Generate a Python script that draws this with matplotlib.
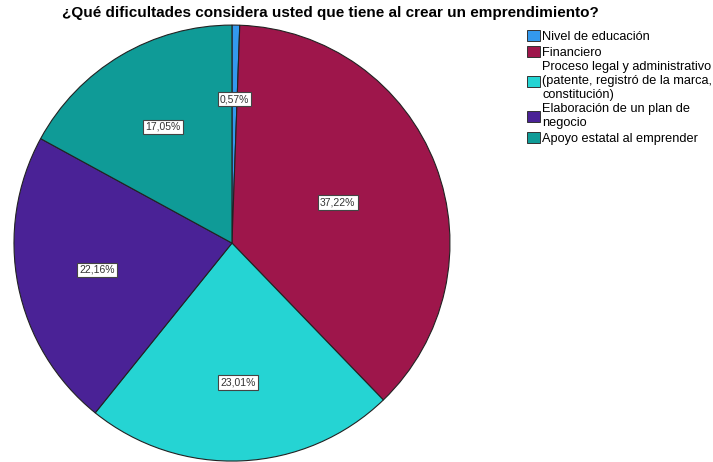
import numpy as np
import matplotlib.pyplot as plt
from matplotlib.patches import Patch

plt.rcParams['font.family'] = ['Liberation Sans', 'DejaVu Sans']

categorias = ["Nivel de educación", "Financiero",
              "Proceso legal y administrativo\n(patente, registró de la marca,\nconstitución)",
              "Elaboración de un plan de\nnegocio", "Apoyo estatal al emprender"]
porcentajes = [0.57, 37.22, 23.01, 22.16, 17.05]
colores = ["#3399ee", "#9e164b", "#25d4d3", "#4a2296", "#0f9b97"]
radio_etiqueta = [0.66, 0.52, 0.64, 0.63, 0.62]

fig = plt.figure(figsize=(7.13, 4.62), dpi=100)
ax = fig.add_axes([0.0196, 0.002, 0.6115, 0.9437])

wedges, _ = ax.pie(porcentajes, colors=colores, startangle=90, counterclock=False,
                   wedgeprops=dict(edgecolor="#222222", linewidth=0.8))
ax.set_xlim(-1, 1)
ax.set_ylim(-1, 1)
ax.set_aspect("equal")

for w, p, r in zip(wedges, porcentajes, radio_etiqueta):
    ang = np.deg2rad((w.theta1 + w.theta2) / 2)
    ax.text(r * np.cos(ang), r * np.sin(ang), f"{p:.2f}%".replace(".", ","),
            ha="center", va="center", fontsize=7.5, color="#333333",
            bbox=dict(boxstyle="square,pad=0.2", fc="white", ec="#444444", lw=0.8))

fig.text(0.463, 0.972, "¿Qué dificultades considera usted que tiene al crear un emprendimiento?",
         ha="center", va="center", fontsize=11, fontweight="bold")

handles = [Patch(facecolor=c, edgecolor="#333333", linewidth=0.7) for c in colores]
fig.legend(handles, categorias, loc="upper left", bbox_to_anchor=(0.739, 0.935),
           frameon=False, fontsize=9.2, handlelength=1.0, handleheight=1.0,
           handletextpad=0.2, labelspacing=0.2, borderaxespad=0, borderpad=0)

fig.savefig("out.png", dpi=100)
